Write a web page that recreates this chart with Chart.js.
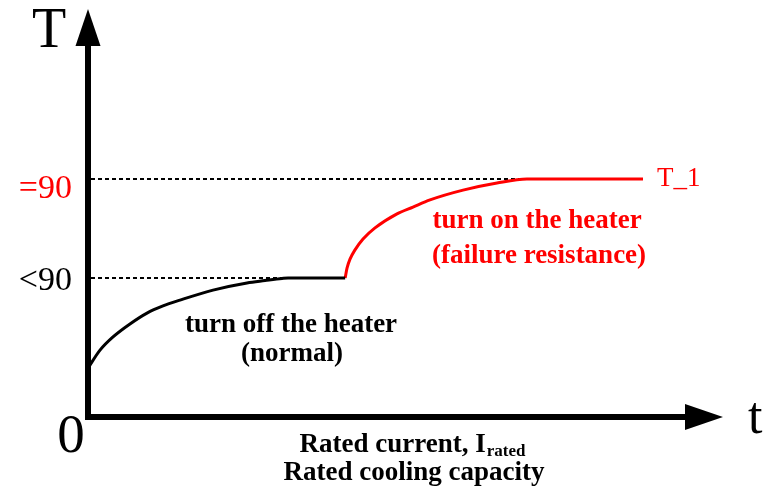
<!DOCTYPE html>
<html><head><meta charset="utf-8">
<script src="https://cdn.jsdelivr.net/npm/chart.js@4/dist/chart.umd.min.js"></script>
<style>html,body{margin:0;padding:0;background:#fff;overflow:hidden}#wrap{width:763px;height:488px}</style>
</head><body><div id="wrap"><canvas id="c" width="763" height="488"></canvas></div>
<script>
// Schematic data (arbitrary units)
const normalTime = [0, 1.89, 3.94, 6.61, 9.29, 11.81, 14.49, 19.69, 25.04, 27.87, 30.55, 31.5, 40.5];
const normalTemp = [18.5, 25.3, 30.3, 35.2, 39.3, 42.0, 44.2, 48.0, 50.7, 51.6, 52.4, 52.6, 52.6];
const heaterTime = [40.5, 40.79, 41.26, 42.05, 43.31, 45.20, 48.66, 51.18, 53.86, 59.06, 64.41, 69.13, 87.4];
const heaterTemp = [52.6, 56.3, 59.7, 63.2, 67.3, 71.5, 76.8, 79.4, 82.1, 85.8, 88.5, 90.0, 90.0];
const yTickValues = [0, 52.6, 90];
const yTickLabels = ['0', '<90', '=90'];
const normalLabel = ['turn off the heater', '(normal)'];
const heaterLabel = ['turn on the heater', '(failure resistance)'];
const seriesEndLabel = 'T_1';
const xAxisTitle = ['Rated current, I', 'rated', 'Rated cooling capacity'];
const axisNames = ['T', 't'];

const RED = '#ff0000';
const SERIF = '"Liberation Serif", "Times New Roman", serif';

function pts(xs, ys) { return xs.map((x, i) => ({ x: x, y: ys[i] })); }

const decor = {
  id: 'decor',
  beforeDatasetsDraw(chart) {
    const ctx = chart.ctx, xs = chart.scales.x, ys = chart.scales.y;
    const x0 = xs.getPixelForValue(0);
    ctx.save();
    ctx.strokeStyle = '#000';
    ctx.lineWidth = 2;
    ctx.setLineDash([4, 3]);
    const yLow = ys.getPixelForValue(yTickValues[1]);
    const xLow = xs.getPixelForValue(normalTime[10]);
    ctx.beginPath(); ctx.moveTo(x0 + 3, yLow); ctx.lineTo(xLow, yLow); ctx.stroke();
    const yHi = ys.getPixelForValue(yTickValues[2]);
    const xHi = xs.getPixelForValue(heaterTime[11]);
    ctx.beginPath(); ctx.moveTo(x0 + 3, yHi); ctx.lineTo(xHi, yHi); ctx.stroke();
    ctx.restore();
  },
  afterDatasetsDraw(chart) {
    const ctx = chart.ctx, xs = chart.scales.x, ys = chart.scales.y, ca = chart.chartArea;
    const x0 = xs.getPixelForValue(0), y0 = ys.getPixelForValue(0);
    ctx.save();
    ctx.fillStyle = '#000';
    ctx.strokeStyle = '#000';
    ctx.lineWidth = 6;
    ctx.setLineDash([]);
    // y axis + arrow
    ctx.beginPath(); ctx.moveTo(x0, y0 + 3); ctx.lineTo(x0, ca.top + 36); ctx.stroke();
    ctx.beginPath(); ctx.moveTo(x0, ca.top); ctx.lineTo(x0 - 12.5, ca.top + 37); ctx.lineTo(x0 + 12.5, ca.top + 37); ctx.closePath(); ctx.fill();
    // x axis + arrow
    ctx.beginPath(); ctx.moveTo(x0 - 3, y0); ctx.lineTo(ca.right - 37, y0); ctx.stroke();
    ctx.beginPath(); ctx.moveTo(ca.right, y0); ctx.lineTo(ca.right - 38, y0 - 13); ctx.lineTo(ca.right - 38, y0 + 13); ctx.closePath(); ctx.fill();

    // axis names
    ctx.textBaseline = 'alphabetic';
    ctx.font = '56px ' + SERIF;
    ctx.textAlign = 'center';
    ctx.fillText(axisNames[0], 49, ca.top + 38);
    ctx.textAlign = 'left';
    ctx.font = '52px ' + SERIF;
    ctx.fillText(axisNames[1], ca.right + 25, y0 + 16);

    // y tick labels
    ctx.textAlign = 'center';
    ctx.font = '55px ' + SERIF;
    ctx.fillText(yTickLabels[0], 71, y0 + 35);
    ctx.textAlign = 'right';
    ctx.font = '34px ' + SERIF;
    ctx.fillText(yTickLabels[1], 72, ys.getPixelForValue(yTickValues[1]) + 12);
    ctx.fillStyle = RED;
    ctx.fillText(yTickLabels[2], 72, ys.getPixelForValue(yTickValues[2]) + 19);

    // end label
    ctx.textAlign = 'left';
    ctx.font = '27px ' + SERIF;
    ctx.fillText(seriesEndLabel, xs.getPixelForValue(heaterTime[12]) + 14, ys.getPixelForValue(heaterTemp[12]) + 7);

    // annotations
    ctx.font = 'bold 27px ' + SERIF;
    ctx.textAlign = 'center';
    ctx.fillStyle = RED;
    ctx.fillText(heaterLabel[0], 537, 228);
    ctx.fillText(heaterLabel[1], 539, 263);
    ctx.fillStyle = '#000';
    ctx.fillText(normalLabel[0], 291, 332);
    ctx.fillText(normalLabel[1], 292, 361);

    // x axis title with subscript
    ctx.font = 'bold 27px ' + SERIF;
    const w1 = ctx.measureText(xAxisTitle[0]).width;
    ctx.font = 'bold 17px ' + SERIF;
    const w2 = ctx.measureText(xAxisTitle[1]).width;
    const startX = 412 - (w1 + w2) / 2;
    ctx.textAlign = 'left';
    ctx.font = 'bold 27px ' + SERIF;
    ctx.fillText(xAxisTitle[0], startX, 452);
    ctx.font = 'bold 17px ' + SERIF;
    ctx.fillText(xAxisTitle[1], startX + w1 + 1, 456);
    ctx.textAlign = 'center';
    ctx.font = 'bold 27px ' + SERIF;
    ctx.fillText(xAxisTitle[2], 414, 480);
    ctx.restore();
  }
};

new Chart(document.getElementById('c'), {
  type: 'line',
  data: {
    datasets: [
      { data: pts(normalTime, normalTemp), borderColor: '#000', borderWidth: 3, cubicInterpolationMode: 'monotone', pointRadius: 0, fill: false },
      { data: pts(heaterTime, heaterTemp), borderColor: RED, borderWidth: 3, cubicInterpolationMode: 'monotone', pointRadius: 0, fill: false }
    ]
  },
  options: {
    responsive: false,
    animation: false,
    devicePixelRatio: 1,
    layout: { padding: { left: 88, right: 40, top: 9, bottom: 71 } },
    plugins: { legend: { display: false }, tooltip: { enabled: false } },
    scales: {
      x: { type: 'linear', min: 0, max: 100, display: false },
      y: { type: 'linear', min: 0, max: 154.3, display: false }
    }
  },
  plugins: [decor]
});
</script>
</body></html>
